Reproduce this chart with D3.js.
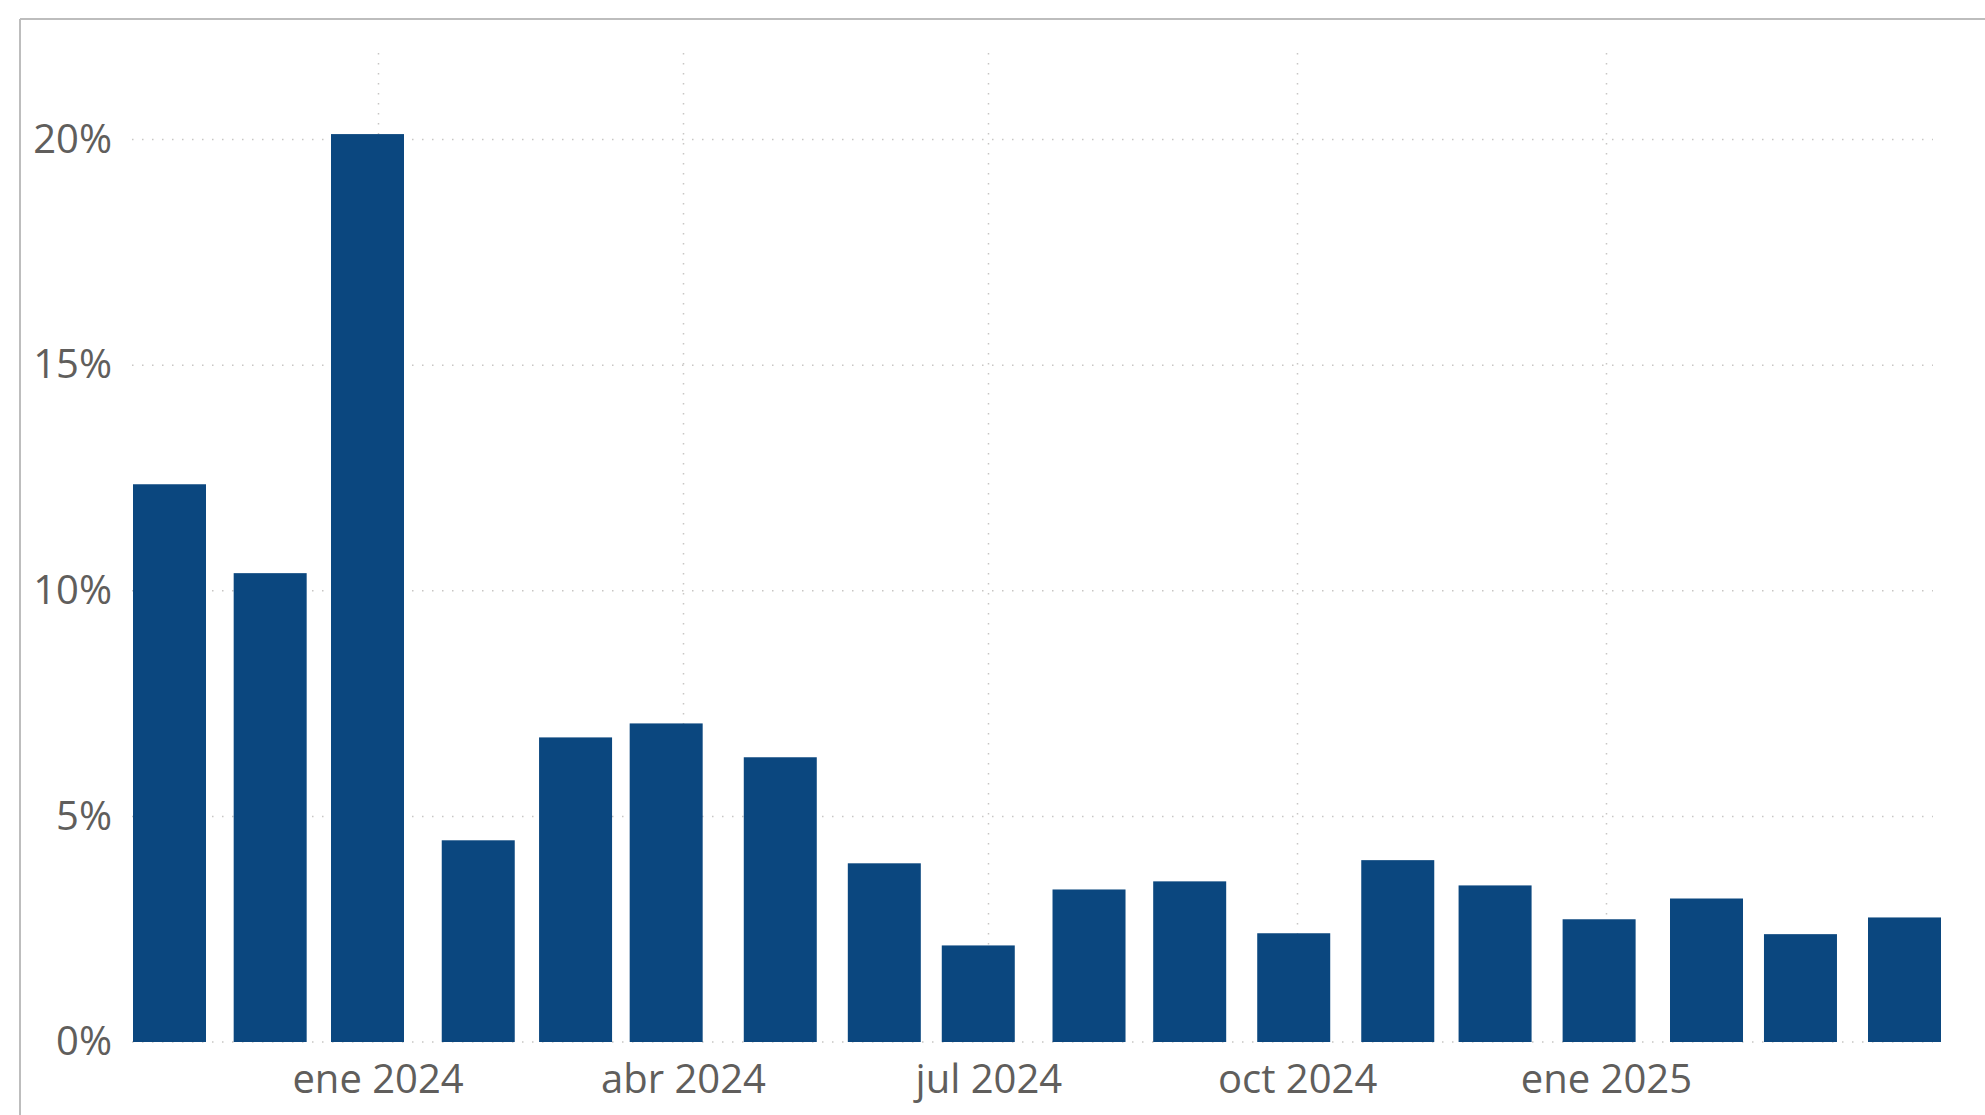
<!DOCTYPE html>
<html>
<head>
<meta charset="utf-8">
<script src="https://cdn.jsdelivr.net/npm/d3@7"></script>
<style>
  html, body { margin: 0; padding: 0; background: #fff; }
  svg { display: block; }
  .axis text { font-family: "Segoe UI", "Open Sans", sans-serif; font-size: 40px; fill: #605E5C; }
</style>
</head>
<body>
<svg id="chart" width="1985" height="1115"></svg>
<script>
// Data: month-end (last business day) observations
const dates = ["2023-10-31","2023-11-30","2023-12-29","2024-01-31","2024-02-29","2024-03-27",
               "2024-04-30","2024-05-31","2024-06-28","2024-07-31","2024-08-30","2024-09-30",
               "2024-10-31","2024-11-29","2024-12-30","2025-01-31","2025-02-28","2025-03-31"];
const values = [12.36, 10.39, 20.12, 4.47, 6.75, 7.06, 6.31, 3.96, 2.14, 3.38, 3.56, 2.41,
                4.03, 3.47, 2.72, 3.18, 2.39, 2.76];
const yTicks = [0, 5, 10, 15, 20];
const xTickDates = ["2024-01-01","2024-04-01","2024-07-01","2024-10-01","2025-01-01"];
const xTickLabels = ["ene 2024","abr 2024","jul 2024","oct 2024","ene 2025"];

const parse = d3.utcParse("%Y-%m-%d");
const data = dates.map((d, i) => ({ date: parse(d), value: values[i] }));
const xTicks = xTickDates.map(parse);

const svg = d3.select("#chart");

// Frame (top and left border)
svg.append("line").attr("x1", 20).attr("x2", 1985).attr("y1", 19).attr("y2", 19)
  .attr("stroke", "#bdbdbd").attr("stroke-width", 2);
svg.append("line").attr("x1", 20).attr("x2", 20).attr("y1", 19).attr("y2", 1115)
  .attr("stroke", "#bdbdbd").attr("stroke-width", 2);

const barW = 73;
const plotLeft = 132, plotRight = 1933, plotTop = 53;
const x = d3.scaleUtc()
  .domain([data[0].date, data[data.length - 1].date])
  .range([169.5, 1904.5]);
const y = d3.scaleLinear().domain([0, 20]).range([1042, 139.5]);

const grid = svg.append("g");
// horizontal dotted gridlines
grid.selectAll("line.h").data(yTicks).join("line")
  .attr("class", "h")
  .attr("x1", plotLeft).attr("x2", plotRight)
  .attr("y1", d => y(d)).attr("y2", d => y(d))
  .attr("stroke", "#c8c6c4").attr("stroke-width", 1.5)
  .attr("stroke-dasharray", "1.5,8.5");
// vertical dotted gridlines
grid.selectAll("line.v").data(xTicks).join("line")
  .attr("class", "v")
  .attr("x1", d => Math.round(x(d)) + 0.5).attr("x2", d => Math.round(x(d)) + 0.5)
  .attr("y1", plotTop).attr("y2", y(0))
  .attr("stroke", "#c8c6c4").attr("stroke-width", 1.5)
  .attr("stroke-dasharray", "1.5,8.5");

// bars
svg.append("g").selectAll("rect").data(data).join("rect")
  .attr("x", d => x(d.date) - barW / 2)
  .attr("width", barW)
  .attr("y", d => y(d.value))
  .attr("height", d => y(0) - y(d.value))
  .attr("fill", "#0B477F");

// axes
const yAxis = d3.axisLeft(y).tickValues(yTicks).tickFormat(d => d + "%")
  .tickSize(0).tickPadding(20);
svg.append("g").attr("class", "axis").attr("transform", `translate(${plotLeft},0)`)
  .call(yAxis)
  .call(g => g.select(".domain").remove());

const xAxis = d3.axisBottom(x).tickValues(xTicks)
  .tickFormat((d, i) => xTickLabels[i])
  .tickSize(0).tickPadding(23);
svg.append("g").attr("class", "axis").attr("transform", `translate(0,${y(0)})`)
  .call(xAxis)
  .call(g => g.select(".domain").remove());
</script>
</body>
</html>
